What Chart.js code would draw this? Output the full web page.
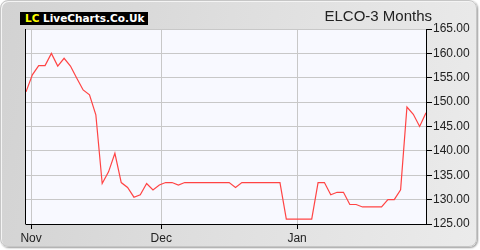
<!DOCTYPE html>
<html>
<head>
<meta charset="utf-8">
<script src="https://cdn.jsdelivr.net/npm/chart.js@4"></script>
<style>
  html, body { margin: 0; padding: 0; background: #ffffff; }
  #wrap { position: relative; width: 480px; height: 250px; overflow: hidden; }
  #panel {
    position: absolute; left: 0; top: 0; width: 477px; height: 247px;
    box-sizing: border-box; border: 1px solid #c6c6c6; border-radius: 8px;
    background: linear-gradient(100deg, #d2d2d2 0%, #dedede 45%, #ebebeb 100%);
    box-shadow: 1px 1px 2px #9a9a9a, inset 1px 1px 0 #f4f4f4;
  }
  #chart { position: absolute; left: 0; top: 0; }
  #logo {
    position: absolute; left: 20px; top: 11.5px; height: 13px; line-height: 12px;
    padding: 0 4px 0 5px; background: #000; color: #fff;
    font: bold 10.5px "DejaVu Sans", sans-serif; white-space: nowrap;
  }
  #logo span { color: #ffff00; }
  #title {
    position: absolute; right: 48px; top: 7px; line-height: 1;
    font: 15px "Liberation Sans", Arial, sans-serif; color: #222;
  }
</style>
</head>
<body>
<div id="wrap">
  <div id="panel"></div>
  <canvas id="chart" width="480" height="250"></canvas>
  <div id="logo"><span>LC</span> LiveCharts.Co.Uk</div>
  <div id="title">ELCO-3 Months</div>
</div>
<script>
// cours de clôture, un point par séance
const prices = [
  152.1, 155.6, 157.5, 157.5, 160.0, 157.4, 159.0, 157.4, 154.9, 152.5,
  151.5, 147.4, 133.3, 135.7, 139.5, 133.5, 132.5, 130.5, 131.0, 133.3,
  132.0, 133.0, 133.5, 133.5, 133.0, 133.5, 133.5, 133.5, 133.5, 133.5,
  133.5, 133.5, 133.5, 132.5, 133.5, 133.5, 133.5, 133.5, 133.5, 133.5,
  133.5, 126.0, 126.0, 126.0, 126.0, 126.0, 133.5, 133.5, 131.0, 131.5,
  131.5, 129.0, 129.0, 128.5, 128.5, 128.5, 128.5, 130.0, 130.0, 132.0,
  149.0, 147.5, 145.0, 147.8
];
const sessions = prices.map((p, i) => i);

// débuts de mois (en index de séance) et leurs libellés
const monthLabels = ['Nov', 'Dec', 'Jan'];
const monthStarts = [0.8, 21.3, 42.7];

const yMin = 125;
const yMax = 165;
const yStep = 5;

const plotBg = {
  id: 'plotBg',
  beforeDraw(chart) {
    const { ctx, chartArea: a } = chart;
    ctx.save();
    ctx.fillStyle = '#f8f9ff';
    ctx.fillRect(a.left, a.top, a.right - a.left, a.bottom - a.top);
    ctx.restore();
  },
  afterDraw(chart) {
    const { ctx, chartArea: a } = chart;
    ctx.save();
    ctx.strokeStyle = '#000';
    ctx.lineWidth = 1;
    ctx.beginPath();
    ctx.moveTo(a.left - 0.5, a.top);
    ctx.lineTo(a.left - 0.5, a.bottom + 0.5);
    ctx.stroke();
    ctx.restore();
  }
};

const ctx = document.getElementById('chart').getContext('2d');

new Chart(ctx, {
  type: 'line',
  data: {
    datasets: [{
      data: sessions.map((x, i) => ({ x: x, y: prices[i] })),
      borderColor: '#ff4444',
      borderWidth: 1.2,
      pointRadius: 0,
      tension: 0,
      fill: false
    }]
  },
  options: {
    responsive: false,
    animation: false,
    devicePixelRatio: 1,
    layout: { padding: { left: 26, top: 29, right: 0, bottom: 0 } },
    plugins: {
      legend: { display: false },
      tooltip: { enabled: false }
    },
    scales: {
      x: {
        type: 'linear',
        min: 0,
        max: prices.length - 1,
        afterBuildTicks: (scale) => {
          scale.ticks = monthStarts.map(v => ({ value: v }));
        },
        afterFit: (scale) => { scale.height = 26; },
        grid: { color: '#c8c8c8', tickColor: '#000', tickLength: 5 },
        border: { color: '#000', width: 1 },
        ticks: {
          autoSkip: false,
          maxRotation: 0,
          padding: 2,
          color: '#222',
          font: { family: 'Liberation Sans', size: 12 },
          callback: (v, i) => monthLabels[i]
        }
      },
      y: {
        position: 'right',
        min: yMin,
        max: yMax,
        afterFit: (scale) => { scale.width = 54; },
        grid: { color: '#c8c8c8', tickColor: '#000', tickLength: 6 },
        border: { color: '#000', width: 1 },
        ticks: {
          stepSize: yStep,
          padding: 1,
          color: '#222',
          font: { family: 'Liberation Sans', size: 12 },
          callback: (v) => v.toFixed(2)
        }
      }
    }
  },
  plugins: [plotBg]
});
</script>
</body>
</html>
